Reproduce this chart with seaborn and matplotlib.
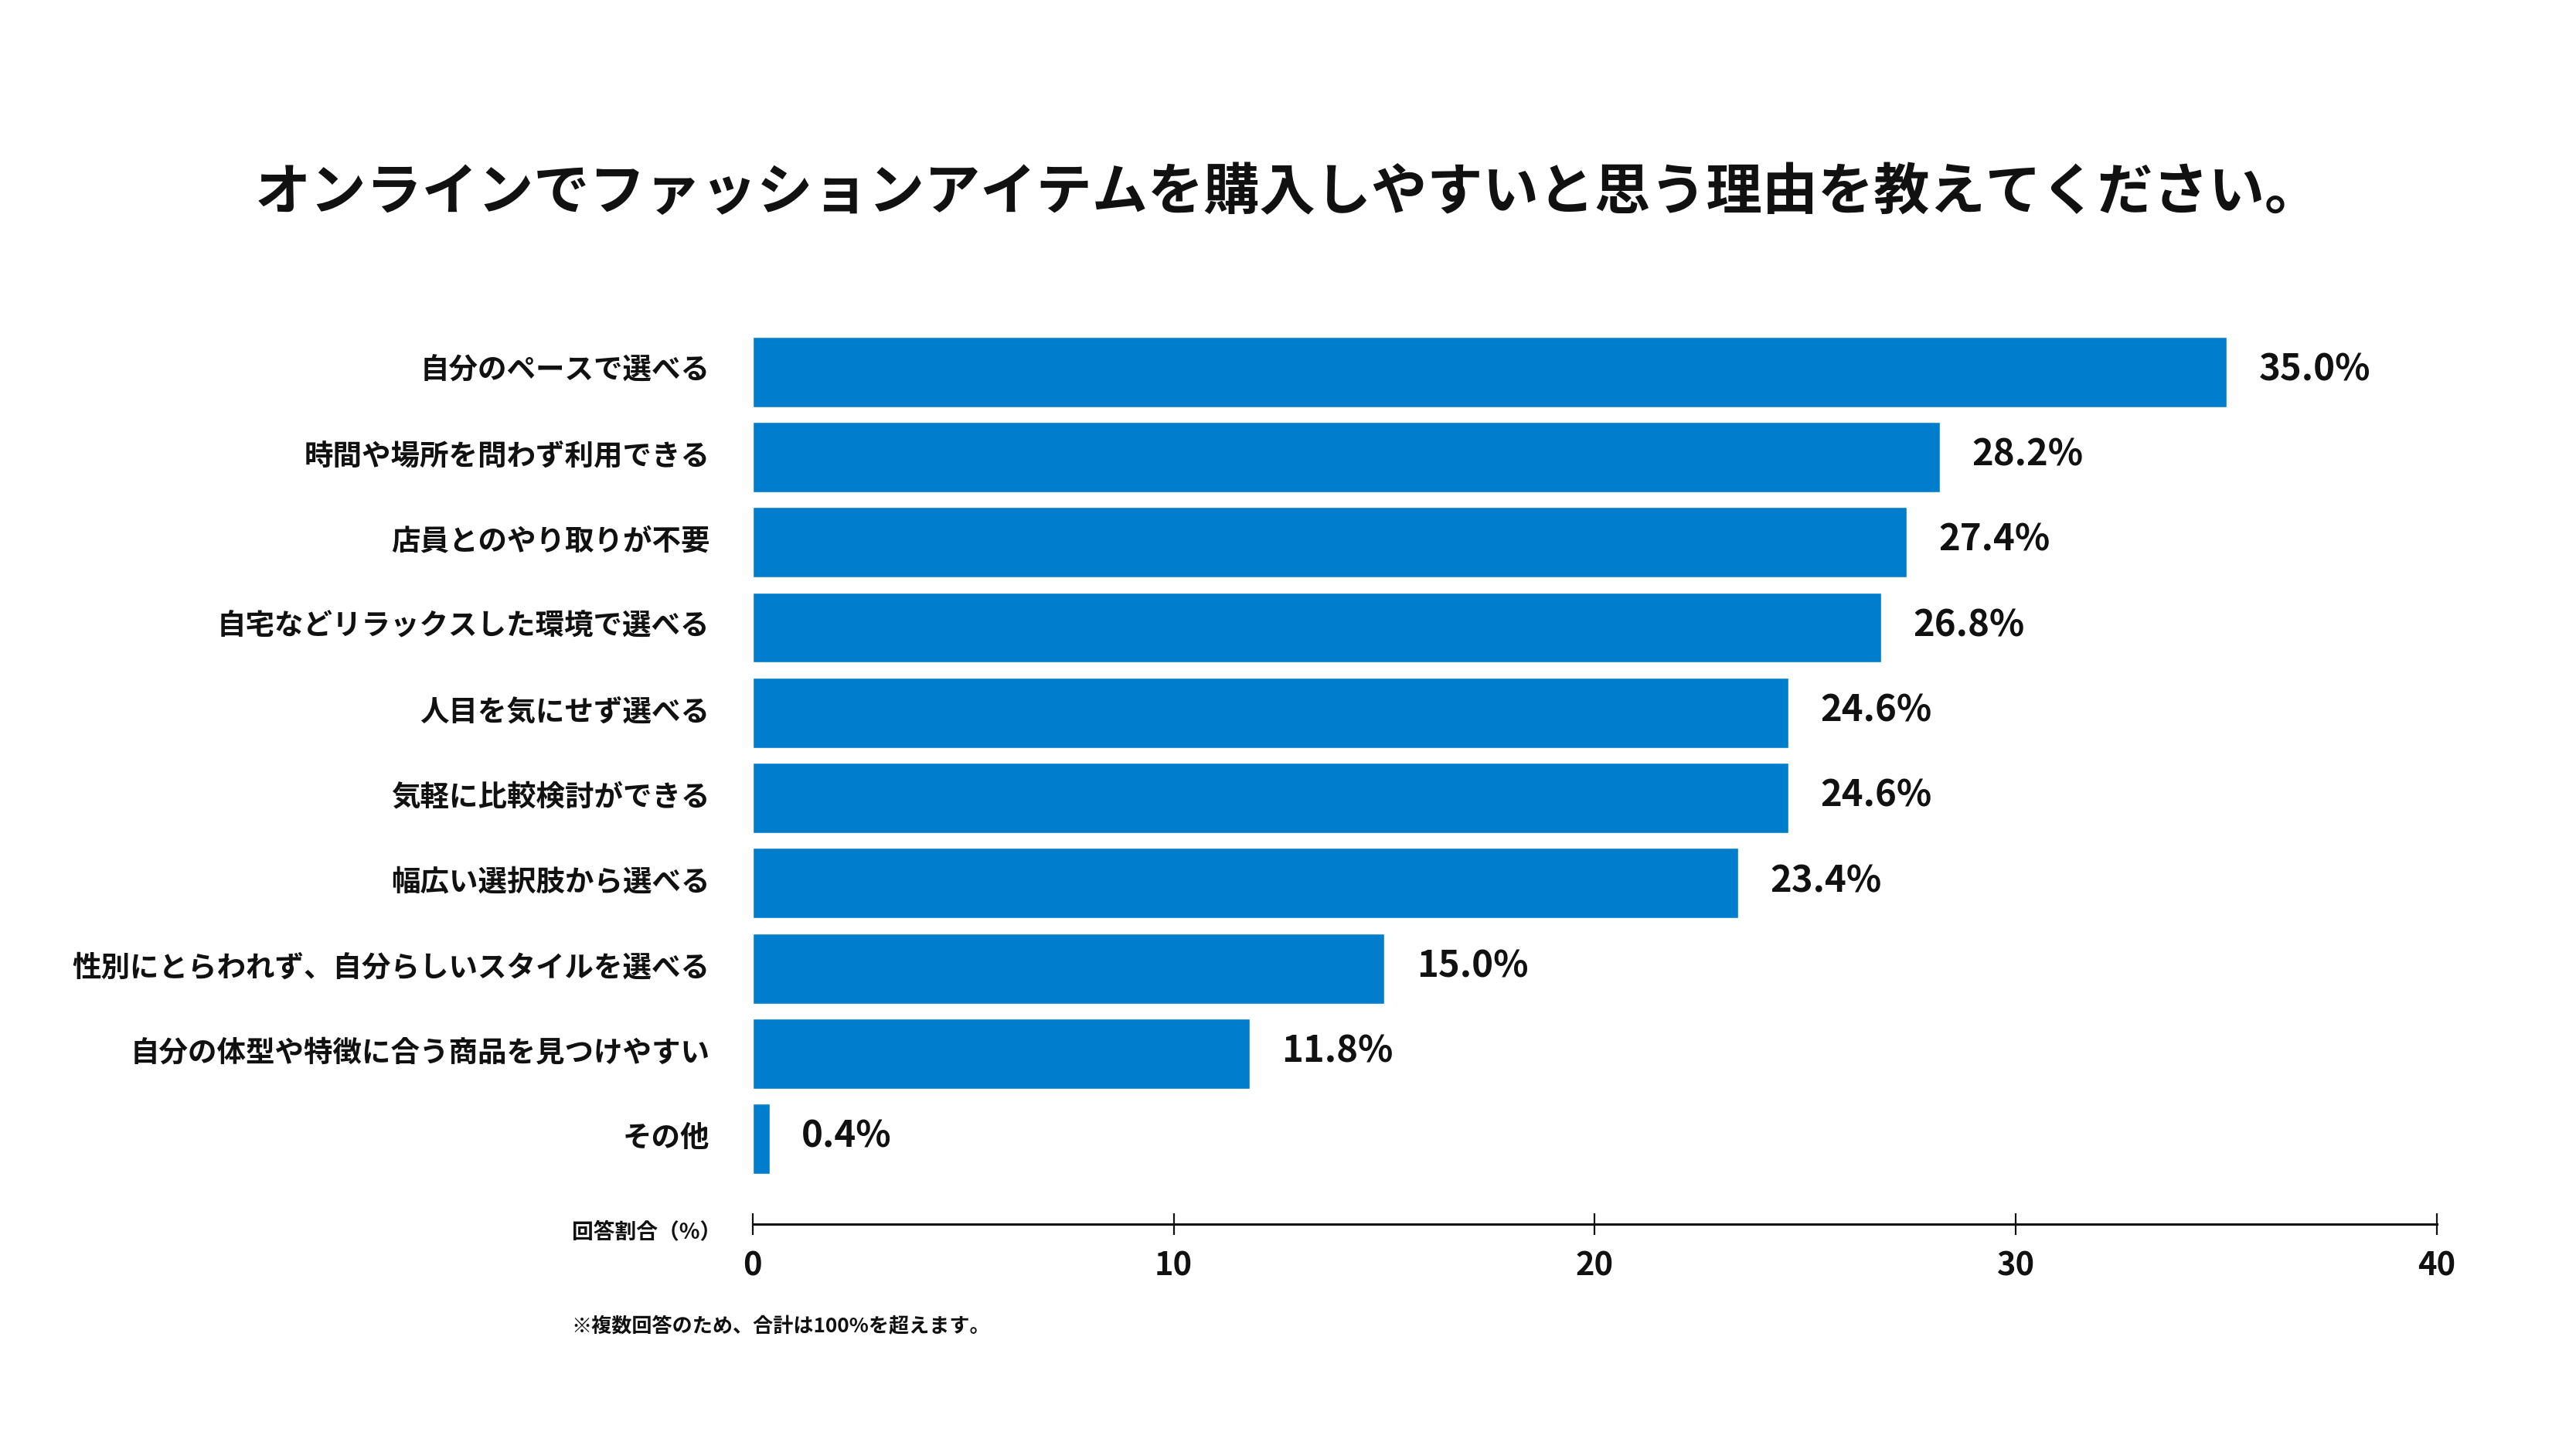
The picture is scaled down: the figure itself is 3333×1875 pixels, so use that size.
import matplotlib
matplotlib.use("Agg")
import matplotlib.pyplot as plt
import matplotlib.transforms as mtransforms
import seaborn as sns
import pandas as pd

categories = [
    "自分のペースで選べる",
    "時間や場所を問わず利用できる",
    "店員とのやり取りが不要",
    "自宅などリラックスした環境で選べる",
    "人目を気にせず選べる",
    "気軽に比較検討ができる",
    "幅広い選択肢から選べる",
    "性別にとらわれず、自分らしいスタイルを選べる",
    "自分の体型や特徴に合う商品を見つけやすい",
    "その他",
]
values = [35.0, 28.2, 27.4, 26.8, 24.6, 24.6, 23.4, 15.0, 11.8, 0.4]
xticks = [0, 10, 20, 30, 40]

title = "オンラインでファッションアイテムを購入しやすいと思う理由を教えてください。"
xlabel = "回答割合（%）"
footnote = "※複数回答のため、合計は100%を超えます。"

sns.set_theme(style="white")
plt.rcParams["font.family"] = ["Noto Sans CJK JP", "DejaVu Sans"]

df = pd.DataFrame({"cat": categories, "val": values})

fig = plt.figure(figsize=(33.33, 18.75), dpi=100)
ax = fig.add_axes([0.2922, 0.1552, 0.946 - 0.2922, 0.7728 - 0.1552])

sns.barplot(data=df, y="cat", x="val", orient="h", color="#007ECD",
            saturation=1, width=0.825, ax=ax)

ax.set_xlim(0, 40)
ax.set_ylim(10.0, -0.5)
ax.set_xticks(xticks)
ax.set_xticklabels([str(t) for t in xticks], fontsize=30, fontweight="bold", color="#111111")
ax.set_yticks(range(len(categories)))
ax.set_yticklabels(categories, fontsize=27, fontweight="bold", color="#111111")
ax.tick_params(axis="y", length=0, pad=40, left=False)
ax.tick_params(axis="x", bottom=True, direction="inout", length=20, width=1.6,
               color="#111111", pad=14)
ax.set_xlabel("")
ax.set_ylabel("")

# nudge category labels up slightly
offset = mtransforms.ScaledTranslation(0, 4 / 72, fig.dpi_scale_trans)
for lbl in ax.get_yticklabels():
    lbl.set_transform(lbl.get_transform() + offset)

for s in ["top", "right", "left"]:
    ax.spines[s].set_visible(False)
ax.spines["bottom"].set_color("#111111")
ax.spines["bottom"].set_linewidth(2.2)

for i, v in enumerate(values):
    ax.annotate(f"{v:.1f}%", xy=(v, i), xytext=(30, 2), textcoords="offset points",
                ha="left", va="center", fontsize=34, fontweight="bold", color="#111111")

fig.text(0.5, 0.867, title, ha="center", va="center", fontsize=52,
         fontweight="bold", color="#111111")
fig.text(0.2800, 0.149, xlabel, ha="right", va="center", fontsize=20,
         fontweight="bold", color="#111111")
fig.text(0.2218, 0.0843, footnote, ha="left", va="center", fontsize=18.8,
         fontweight="bold", color="#111111")

fig.savefig("out.png", dpi=100, facecolor="white")
